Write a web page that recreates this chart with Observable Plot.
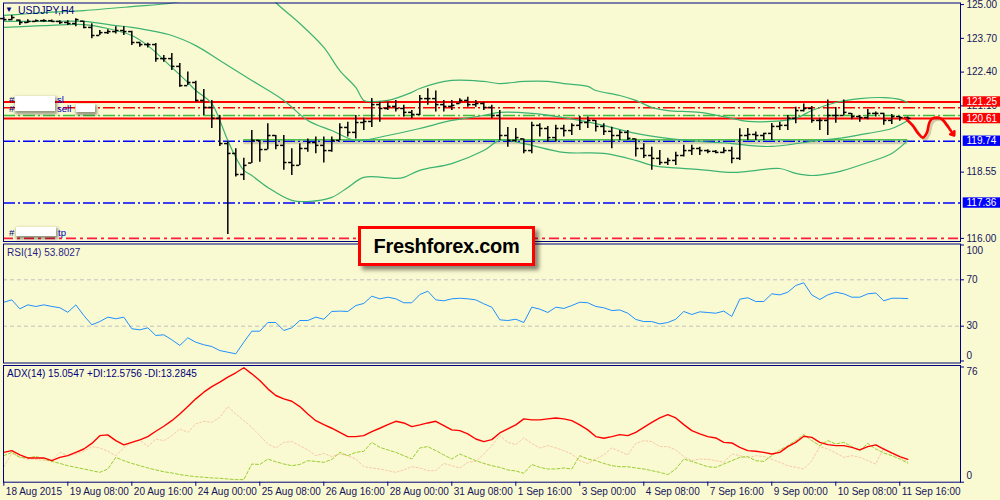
<!DOCTYPE html>
<html><head><meta charset="utf-8">
<script src="https://cdn.jsdelivr.net/npm/d3@7"></script>
<script src="https://cdn.jsdelivr.net/npm/@observablehq/plot@0.6"></script>
<style>
html,body{margin:0;padding:0;background:#FAFAD2;}
#wrap{position:relative;width:1000px;height:500px;overflow:hidden;background:#FAFAD2;font-family:"Liberation Sans",Arial,sans-serif;}
.pane{position:absolute;left:0;width:1000px;}
.pane svg{display:block;}
.lbl{position:absolute;font-size:10px;color:#000080;white-space:nowrap;line-height:1;}
.sm{font-size:9.5px;}
.redact{position:absolute;background:#fff;box-shadow:1px 2px 3px 1px rgba(0,0,0,0.4);}
#brand{position:absolute;left:358px;top:226px;width:171px;height:34px;border:3px solid #f00;background:#FAFAD2;box-shadow:4px 4px 4px rgba(0,0,0,0.45);font:bold 20px "Liberation Sans",Arial,sans-serif;letter-spacing:-0.3px;color:#000;text-align:center;line-height:34px;}
</style></head><body>
<div id="wrap">
  <div class="pane" id="main" style="top:0"></div>
  <div class="pane" id="rsi" style="top:243px"></div>
  <div class="pane" id="adx" style="top:363px"></div>

  <div class="lbl" style="left:5px;top:6px;font-size:8px;">▼</div>
  <div class="lbl" style="left:18px;top:5px;font-size:10.5px;">USDJPY,H4</div>

  <div class="lbl sm" style="left:9px;top:95px;">#</div>
  <div class="lbl sm" style="left:9px;top:104px;">#</div>
  <div class="redact" style="left:15px;top:96px;width:40px;height:15px;"></div>
  <div class="lbl sm" style="left:57px;top:95px;color:#0000c0;">sl</div>
  <div class="lbl sm" style="left:57px;top:104px;color:#0000c0;">sell</div>
  <div class="redact" style="left:76px;top:104px;width:19px;height:8px;"></div>

  <div class="lbl sm" style="left:9px;top:228px;">#</div>
  <div class="redact" style="left:16px;top:227px;width:40px;height:9px;"></div>
  <div class="lbl sm" style="left:58px;top:228px;color:#0000c0;">tp</div>

  <div class="lbl" style="left:7px;top:248px;color:#2a1a8a;">RSI(14) 53.8027</div>
  <div class="lbl" style="left:7px;top:369px;color:#000080;">ADX(14) 15.0547 +DI:12.5756 -DI:13.2845</div>

  <div id="brand">Freshforex.com</div>
</div>
<script>
// ---------------- DATA ----------------
const timeTickIdx = [0, 8, 16, 24, 32, 40, 48, 56, 64, 72, 80, 88, 96, 104, 112];
const timeLabels = ["18 Aug 2015", "19 Aug 08:00", "20 Aug 16:00", "24 Aug 00:00", "25 Aug 08:00", "26 Aug 16:00", "28 Aug 00:00", "31 Aug 08:00", "1 Sep 16:00", "3 Sep 00:00", "4 Sep 08:00", "7 Sep 16:00", "9 Sep 00:00", "10 Sep 08:00", "11 Sep 16:00"];

const barOpen = [124.46,124.42,124.40,124.31,124.35,124.38,124.38,124.35,124.31,124.27,
124.36,124.12,123.81,123.92,123.96,124.00,123.96,123.54,123.46,123.46,
122.92,122.92,122.62,121.88,122.00,121.31,121.04,120.62,119.65,119.27,
118.46,118.90,119.77,119.42,119.96,119.58,118.92,118.81,119.46,119.69,
119.58,119.38,119.77,120.27,120.08,120.46,120.50,121.15,121.00,121.08,
121.00,120.85,120.77,121.38,121.38,121.15,121.08,121.19,121.31,121.15,
121.19,121.04,120.73,119.96,119.77,119.83,119.38,120.35,120.23,119.88,
120.23,120.15,120.35,120.46,120.54,120.31,120.12,119.96,120.08,119.83,
119.46,119.19,119.08,118.92,119.00,119.19,119.38,119.46,119.38,119.35,
119.31,119.38,119.08,119.96,120.00,119.96,120.04,120.31,120.35,120.62,
120.92,121.00,120.54,120.54,120.73,120.73,120.81,120.69,120.65,120.81,
120.81,120.54,120.69,120.65];
const barHigh = [124.51,124.58,124.41,124.42,124.41,124.42,124.41,124.38,124.38,124.45,
124.36,124.26,124.00,124.03,124.15,124.15,123.97,123.55,123.51,123.50,
123.04,123.12,122.73,122.40,122.05,121.73,121.31,120.73,119.74,119.45,
119.08,120.15,119.77,120.41,119.96,119.96,119.45,119.64,119.83,119.90,
119.90,119.90,120.41,120.47,120.73,120.62,121.38,121.24,121.24,121.31,
121.12,120.92,121.50,121.76,121.67,121.31,121.31,121.37,121.43,121.31,
121.24,121.12,120.92,120.27,120.23,119.83,120.47,120.41,120.31,120.35,
120.35,120.41,120.69,120.67,120.54,120.41,120.28,120.15,120.15,119.83,
119.64,119.51,119.38,119.08,119.32,119.58,119.58,119.51,119.41,119.38,
119.49,119.51,120.22,120.23,120.09,120.04,120.42,120.47,120.73,121.05,
121.17,121.08,120.62,121.33,121.04,121.33,120.81,120.73,120.96,120.86,
120.82,120.77,120.69,120.67];
const barLow = [124.36,124.38,124.19,124.27,124.33,124.32,124.32,124.23,124.19,124.15,
124.07,123.68,123.81,123.85,123.87,123.81,123.42,123.36,123.33,122.78,
122.78,122.46,121.82,121.88,121.24,120.73,120.23,119.54,116.15,118.36,
118.23,118.88,118.93,119.41,119.41,118.62,118.42,118.81,119.32,119.26,
118.90,119.32,119.77,119.90,119.83,120.15,120.27,120.47,120.92,120.86,
120.67,120.60,120.73,121.12,120.86,120.86,120.92,121.17,121.05,121.05,
120.92,120.60,119.77,119.51,119.70,119.26,119.26,119.90,119.70,119.70,
119.90,119.96,120.15,120.23,120.09,119.96,119.45,119.77,119.77,119.13,
119.07,118.62,118.81,118.81,118.81,119.13,119.19,119.19,119.26,119.26,
119.26,118.87,119.00,119.77,119.77,119.77,119.77,120.15,120.15,120.41,
120.86,120.43,120.15,119.96,120.43,120.73,120.57,120.47,120.57,120.67,
120.35,120.38,120.51,120.51];
const barClose = [124.42,124.50,124.31,124.35,124.38,124.38,124.35,124.31,124.27,124.42,
124.12,123.81,123.92,123.96,124.00,123.96,123.54,123.46,123.46,122.92,
122.92,122.62,121.88,122.00,121.31,121.04,120.62,119.65,119.27,118.46,
118.81,119.77,119.42,119.96,119.58,118.92,118.81,119.46,119.69,119.58,
119.38,119.77,120.27,120.08,120.46,120.50,121.15,121.00,121.08,121.00,
120.85,120.77,121.38,121.38,121.15,121.08,121.12,121.31,121.15,121.19,
121.04,120.73,119.96,119.77,119.88,119.38,120.35,120.23,119.88,120.23,
120.15,120.35,120.46,120.54,120.31,120.12,119.96,120.08,119.85,119.46,
119.19,119.08,118.92,119.00,119.19,119.38,119.46,119.38,119.35,119.31,
119.38,119.08,119.96,120.00,119.96,120.04,120.31,120.35,120.62,120.92,
121.00,120.54,120.54,120.73,120.73,120.85,120.69,120.65,120.81,120.81,
120.54,120.69,120.65,120.62];

// Bollinger bands (at sample bars)
const bbUpperIdx = [0,5,10,16,21,25,28,31,33,34,37,40,42,44,45,46,48,51,52,56,60,62,65,68,70,73,74,77,79,81,83,87,91,93,96,99,101,104,107,110,112,113];
const bbUpperVal = [124.58,124.69,124.77,124.92,125.06,125.35,125.69,125.77,125.46,125.08,124.27,123.35,122.46,121.81,121.31,121.27,121.31,121.62,121.77,122.08,122.04,121.96,122.04,122.04,121.96,121.85,121.69,121.50,121.31,121.04,120.92,120.85,120.62,120.50,120.50,120.62,120.92,121.23,121.38,121.42,121.35,121.23];
const bbMidIdx = [0,5,10,14,16,21,24,27,31,35,38,41,44,48,52,56,60,62,66,70,74,79,83,87,91,93,96,102,105,108,111,113];
const bbMidVal = [124.35,124.35,124.35,124.19,124.12,123.81,123.42,122.85,122.08,121.31,120.54,120.15,119.77,119.96,120.23,120.54,120.73,120.85,120.81,120.65,120.42,120.04,119.85,119.73,119.65,119.58,119.54,119.77,119.88,120.04,120.23,120.54];
const bbLowIdx = [0,5,10,13,16,18,21,23,24,26,27,28,29,30,31,33,36,38,41,43,45,49,50,52,56,60,62,65,70,75,79,81,83,87,91,93,97,99,101,104,108,111,113];
const bbLowVal = [124.12,124.19,124.23,124.08,123.81,123.42,122.58,122.00,121.69,121.19,120.54,119.77,119.12,118.62,118.42,117.96,117.46,117.42,117.58,117.96,118.35,118.31,118.35,118.62,118.88,119.38,119.77,119.65,119.31,119.27,119.00,118.81,118.73,118.65,118.54,118.58,118.69,118.50,118.42,118.54,118.92,119.27,119.77];

// horizontal levels
const levelSlTop = 121.25, levelSl = 121.03, levelSell = 120.73, levelEntry = 120.61;
const levelBlue1 = 119.74, levelBlue2 = 117.36, levelTp = 116.00;
const greenTrendPrice = 119.80, greenTrendFrom = 30, greenTrendTo = 113;

const priceTicks = [125.00, 123.70, 122.40, 121.10, 118.55, 116.00];
const boxedPrices = [121.25, 120.61, 119.74, 117.36];
const boxedLabels = ["121.25", "120.61", "119.74", "117.36"];

// forecast path (hand drawn)
const fcIdx = [112.7, 113.6, 114.3, 114.9, 115.4, 115.7, 116.1, 116.8, 117.3, 117.9];
const fcPrice = [120.62, 120.35, 120.04, 119.88, 120.08, 120.46, 120.62, 120.65, 120.58, 120.35];
const fcArrowFrom = [117.9, 120.35], fcArrowTo = [118.8, 119.96];

// RSI(14)
const rsi = [50.7,52.7,45,48.4,47,48.4,47,45.9,42,48.4,
39.2,31.2,34,37.8,36.4,37.8,27.8,26.9,28.6,22,
22.6,18.3,13.4,20,16.2,14,12.5,9,7.6,6.2,
16.2,25.7,25.7,33.2,33.2,26.3,28.6,34.9,34.9,37.8,
36,42.7,43,42.7,47.8,49.6,55.9,53.6,55,53.6,
50.2,50.2,57.3,60.2,52.7,51.9,53.6,54.1,53.6,52.7,
49.3,46.4,35.5,34.9,36,33.2,46.4,44.7,41.8,46.4,
45.3,47.8,50.7,50.2,47,45.9,43.5,44,41.2,35.8,
34,34,32,33.2,36,42.7,40.1,42.4,41.8,41.2,
43,38.4,53.3,54.5,51.3,51.3,57.9,57,59.3,65.1,
67.4,57,53,57,59.3,57.9,55,55,57.9,58.6,
51.9,54.1,54.1,53.8];
const rsiLevels = [30, 70];
const rsiTicks = [100, 70, 30, 0];

// ADX(14)
const adx = [19.7,20.8,18,16,16,16,14.2,16.4,17.5,19.7,
21.9,25.6,30.7,31.2,27.4,24.6,26.3,27.9,30.1,33.6,
36.9,40.6,45,49.9,55,59.4,63.1,66,69.3,72.2,
75.5,71.5,67.1,61.6,57.2,55,53.4,49.9,45,40.6,
38,35.6,32.9,30.1,30.1,30.7,33.4,35.6,38,40.2,
39.1,36.7,37.8,39.1,40.2,37.3,34.5,34,31.9,28.5,
26.8,28.1,32.5,35.2,37.8,41.8,41.1,41.1,41.8,42.4,
41.8,40.6,37.8,34.5,30.1,29,30.1,31.4,30.7,32.9,
36.2,39.5,42.4,44.6,42.4,38,34,31.9,30.1,29.2,
26.3,25.9,23,20.8,20.4,19.7,18.6,19.7,23.5,26.3,
30.3,29.6,26.3,24.8,24.1,24.1,23,21.3,23.5,24.6,
21.9,19.3,16.9,15.1];
const plusDI = [17.5,19.7,16.4,16,17,15.3,13.7,12.4,10.9,9.8,
8.7,7.6,6.5,8.7,16.4,14.2,12.4,10.9,9.4,8.1,
6.9,6.1,5,4.3,3.6,3.3,2.8,2.6,2.1,1.7,
1.7,12,11.7,15.3,13.5,12,10.9,11.7,14.2,13.7,
13.1,15,19.7,17.5,19.7,20.4,26.3,23,21.3,19.7,
17.5,15.3,22.6,23.5,20.8,18,15.3,18.6,16.4,14.2,
12.4,10.9,9.8,8.1,7.4,5.9,11.7,9.8,8.7,8.7,
9.4,8.7,17.5,15.3,14.2,12.4,10.9,10.2,10.2,9.4,
8.7,7.6,6.5,5,8.7,15.3,13.7,12,10.2,9.8,
12,14.2,16.4,16.9,14.2,13.7,17.5,21.3,24.1,27.4,
31.4,27.4,24.1,27.4,25.2,26.3,23.5,20.8,25.6,21.9,
19.3,17.5,15.3,12.6];
const minusDI = [10.2,19,16.4,15.1,15.1,14.2,14.2,19.7,17.5,18.6,
20.4,23.5,22.6,20.4,17.5,22.6,26.3,27.9,23.5,28.5,
27.4,30.7,35.2,32.9,38.5,40.2,39.5,42.8,49.9,45,
40.6,36.2,30.7,25.2,22.6,26.3,26.8,24.1,21.3,17.5,
19,16.9,18.6,17.5,15.3,10.2,9.4,8.7,7.6,6.5,
8.1,10.2,9.4,7.6,7.6,12.4,10.9,9.4,13.1,13.7,
18.6,24.1,30.7,26.3,24.8,29.2,25.6,22.6,24.1,22.6,
20.8,18.6,14.2,12.4,15.3,18,22.6,20.4,18,25.6,
27.4,26.8,23.5,23.5,21.3,16.9,14.2,15.3,15.1,14.2,
13.1,18.6,17.5,16,17.5,16.9,15.1,13.1,10.9,9.8,
8.7,14.2,23.5,21.9,19.3,16.4,17.5,16.4,14.2,12,
22.6,18.6,16.4,13.3];
const adxTicks = [76, 0];

// ---------------- BUILD ----------------
const X_DOMAIN = [-0.04, 119.59];
const XR = X_DOMAIN[1];
const NAVY = "#000080";
const AXIS_TXT = "#14145a";
const FONT = "'Liberation Sans', Arial, sans-serif";

const bars = barOpen.map((o, i) => ({i, open: o, high: barHigh[i], low: barLow[i], close: barClose[i]}));
const pts = (idx, vals) => idx.map((i, k) => ({i, v: vals[k]}));
const series = vals => vals.map((v, i) => ({i, v}));
const fc = pts(fcIdx, fcPrice);

function pane(opts) {
  return Plot.plot({
    width: 1000, marginLeft: 3, marginRight: 40,
    x: {domain: X_DOMAIN, axis: null},
    style: {background: "transparent", fontFamily: FONT, fontSize: "10px", color: NAVY, overflow: "visible"},
    ...opts
  });
}
const tickMarks = (vals) => Plot.ruleY(vals, {y: d => d, x1: XR, x2: XR + 0.5, stroke: NAVY});
const tickText = (vals, dy) => Plot.text(vals, {x: XR, y: d => d, text: d => (d > 100 ? d.toFixed(2) : String(d)), dx: 6, dy, textAnchor: "start", fill: AXIS_TXT, fontSize: 10});

const GREEN = "#3CB371";
const mainChart = pane({
  height: 243, marginTop: 2.5, marginBottom: 2,
  y: {domain: [115.88, 125.06], axis: null},
  marks: [
    // levels
    Plot.ruleY([levelSlTop], {stroke: "#ff0000", strokeWidth: 2}),
    Plot.ruleY([levelSl], {stroke: "#ff0000", strokeWidth: 1.6, strokeDasharray: "12,3,2,3"}),
    Plot.ruleY([levelSell], {stroke: "#3cbf3c", strokeWidth: 1.6, strokeDasharray: "12,3,2,3"}),
    Plot.ruleY([levelEntry], {stroke: "#ff0000", strokeWidth: 2}),
    Plot.ruleY([greenTrendPrice], {x1: greenTrendFrom, x2: greenTrendTo, stroke: "#000", strokeOpacity: 0.16, strokeWidth: 4, dy: 2.5}),
    Plot.ruleY([levelBlue1], {stroke: "#0000ff", strokeWidth: 1.6, strokeDasharray: "12,3,2,3"}),
    Plot.ruleY([greenTrendPrice], {x1: greenTrendFrom, x2: greenTrendTo, stroke: "#4cc24c", strokeWidth: 1.5}),
    Plot.ruleY([levelBlue2], {stroke: "#0000ff", strokeWidth: 1.6, strokeDasharray: "12,3,2,3"}),
    Plot.ruleY([levelTp], {stroke: "#ff1a40", strokeWidth: 1.6, strokeDasharray: "10,4,3,4"}),
    // Bollinger bands
    Plot.line(pts(bbUpperIdx, bbUpperVal), {x: "i", y: "v", stroke: GREEN, strokeWidth: 1.2, curve: "catmull-rom", clip: true}),
    Plot.line(pts(bbMidIdx, bbMidVal), {x: "i", y: "v", stroke: GREEN, strokeWidth: 1.2, curve: "catmull-rom", clip: true}),
    Plot.line(pts(bbLowIdx, bbLowVal), {x: "i", y: "v", stroke: GREEN, strokeWidth: 1.2, curve: "catmull-rom", clip: true}),
    // OHLC bars
    Plot.ruleX(bars, {x: "i", y1: "low", y2: "high", stroke: "#000", strokeWidth: 1.5}),
    Plot.ruleY(bars, {y: "open", x1: d => d.i - 0.4, x2: "i", stroke: "#000", strokeWidth: 1.5}),
    Plot.ruleY(bars, {y: "close", x1: "i", x2: d => d.i + 0.4, stroke: "#000", strokeWidth: 1.5}),
    // forecast arrow (with shadow)
    Plot.line(fc, {x: "i", y: "v", stroke: "#000", strokeOpacity: 0.18, strokeWidth: 3, dx: 2, dy: 2, curve: "catmull-rom"}),
    Plot.line(fc, {x: "i", y: "v", stroke: "#ff0000", strokeWidth: 2.6, curve: "catmull-rom"}),
    Plot.arrow([0], {x1: fcArrowFrom[0], y1: fcArrowFrom[1], x2: fcArrowTo[0], y2: fcArrowTo[1], stroke: "#ff0000", strokeWidth: 2.6, headLength: 11, headAngle: 75}),
    // frame + right axis
    Plot.frame({stroke: NAVY}),
    tickMarks(priceTicks),
    tickText(priceTicks, 0),
    Plot.rect(boxedPrices, {x1: XR + 0.34, x2: XR + 5.2, y1: d => d - 0.2, y2: d => d + 0.2, fill: (d, k) => k < 2 ? "#ff0000" : "#0000ff"}),
    Plot.text(boxedPrices, {x: XR, y: d => d, text: (d, k) => boxedLabels[k], dx: 6, textAnchor: "start", fill: "#fff", fontSize: 10})
  ]
});
document.getElementById("main").appendChild(mainChart);

const rsiChart = pane({
  height: 120, marginTop: 0.5, marginBottom: 0.5,
  y: {domain: [-1.72, 100.86], axis: null},
  marks: [
    Plot.ruleY(rsiLevels, {stroke: "#c0c0c0", strokeDasharray: "4,3"}),
    Plot.line(series(rsi), {x: "i", y: "v", stroke: "#1E90FF", strokeWidth: 1}),
    Plot.frame({stroke: NAVY}),
    tickMarks(rsiTicks),
    tickText([rsiTicks[0]], 5.5),
    tickText([rsiTicks[1], rsiTicks[2]], 0),
    tickText([rsiTicks[3]], -5.5)
  ]
});
document.getElementById("rsi").appendChild(rsiChart);

const adxChart = pane({
  height: 137, marginTop: 2, marginBottom: 18.3,
  y: {domain: [0, 77], axis: null},
  marks: [
    Plot.line(series(minusDI), {x: "i", y: "v", stroke: "#f8c9a6", strokeWidth: 1, strokeDasharray: "2,2"}),
    Plot.line(series(plusDI), {x: "i", y: "v", stroke: "#9ACD32", strokeWidth: 1, strokeDasharray: "3,2"}),
    Plot.line(series(adx), {x: "i", y: "v", stroke: "#ff0000", strokeWidth: 1.4}),
    Plot.frame({stroke: NAVY}),
    tickMarks(adxTicks),
    tickText([adxTicks[0]], 5),
    tickText([adxTicks[1]], -6),
    Plot.ruleX(timeTickIdx, {x: d => d, y1: 0, y2: -2.7, stroke: NAVY}),
    Plot.text(timeTickIdx, {x: d => d, y: 0, dy: 10, dx: 2, text: (d, k) => timeLabels[k], textAnchor: "start", fill: AXIS_TXT, fontSize: 10})
  ]
});
document.getElementById("adx").appendChild(adxChart);
</script>
</body></html>
